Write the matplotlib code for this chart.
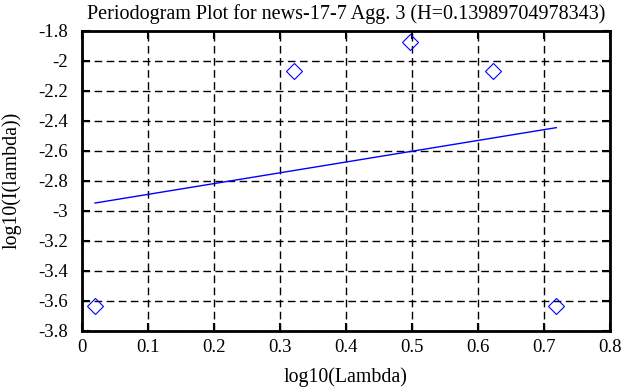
import matplotlib
matplotlib.use("Agg")
import matplotlib.pyplot as plt

title = "Periodogram Plot for news-17-7 Agg. 3 (H=0.13989704978343)"
x_pts = [0.0202, 0.3212, 0.4974, 0.6221, 0.7186]
y_pts = [-3.633, -2.065, -1.873, -2.065, -3.633]
fit_x = [0.0202, 0.7186]
fit_y = [-2.948, -2.445]
xticks = [0, 0.1, 0.2, 0.3, 0.4, 0.5, 0.6, 0.7, 0.8]
xtick_labels = ["0", "0.1", "0.2", "0.3", "0.4", "0.5", "0.6", "0.7", "0.8"]
yticks = [-3.8, -3.6, -3.4, -3.2, -3.0, -2.8, -2.6, -2.4, -2.2, -2.0, -1.8]
ytick_labels = ["-3.8", "-3.6", "-3.4", "-3.2", "-3", "-2.8", "-2.6", "-2.4", "-2.2", "-2", "-1.8"]

plt.rcParams['font.family'] = ['Liberation Serif', 'DejaVu Serif']
fig = plt.figure(figsize=(6.42, 3.87), dpi=100)
ax = fig.add_axes([81.7/642, 1 - 330.7/387, (610 - 81.7)/642, (330.7 - 31)/387])

ax.plot(fit_x, fit_y, color='#0000ff', lw=1.0)
ax.plot(x_pts, y_pts, linestyle='none', marker='D', markersize=8,
        markerfacecolor='none', markeredgecolor='#0000ff', markeredgewidth=0.8)

ax.set_xlim(0, 0.8)
ax.set_ylim(-3.8, -1.8)
ax.set_xticks(xticks)
ax.set_xticklabels(xtick_labels)
ax.set_yticks(yticks)
ax.set_yticklabels(ytick_labels)
ax.grid(True, color='black', linestyle=(0, (5.5, 3.2)), lw=1.0)
ax.tick_params(direction='in', length=6, width=1.5, top=True, right=True,
               labelsize=13.5)
ax.tick_params(axis='y', pad=10)
ax.tick_params(axis='x', pad=6)
for s in ax.spines.values():
    s.set_linewidth(2)

ax.set_title(title, fontsize=14.5, pad=9)
ax.set_xlabel("log10(Lambda)", fontsize=14.3, labelpad=8)
ax.set_ylabel("log10(I(lambda))", fontsize=14.3, labelpad=12)

fig.savefig("out.png", dpi=100)
